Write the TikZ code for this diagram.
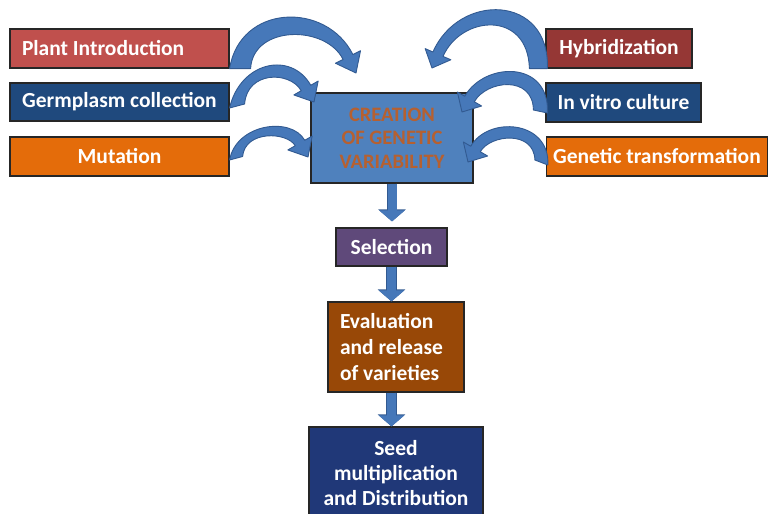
\documentclass[tikz,border=0pt]{standalone}
\usepackage{fontspec}
\setmainfont{Carlito}
\usetikzlibrary{arrows.meta,calc}
\definecolor{pired}{RGB}{192,80,77}
\definecolor{hyred}{RGB}{149,55,53}
\definecolor{dblue}{RGB}{31,73,125}
\definecolor{orng}{RGB}{228,108,10}
\definecolor{cblue}{RGB}{79,129,189}
\definecolor{ctext}{RGB}{182,96,48}
\definecolor{purp}{RGB}{95,73,122}
\definecolor{brwn}{RGB}{152,72,7}
\definecolor{navy}{RGB}{32,56,120}
\definecolor{arrowblue}{RGB}{70,120,185}
\definecolor{arrowedge}{RGB}{50,90,145}
\tikzset{
  box/.style={draw=black!85, line width=1.2pt, inner sep=0pt, text=white,
    font=\fontsize{21.5}{24}\selectfont\bfseries},
  carrow/.style={fill=arrowblue, draw=arrowedge, line width=0.9pt, line join=round},
  varrow/.style={draw=arrowblue, line width=9pt,
    -{Triangle[width=25pt,length=11pt,fill=arrowblue]},
    preaction={draw=arrowedge, line width=10.5pt, -{Triangle[width=27pt,length=12pt]}}}
}
% #1 base A, #2 ctrl, #3 ctrl, #4 head root centre, #5 tip, #6 ctrl, #7 ctrl, #8 base B
\newcommand\taparrow[8]{%
  \filldraw[carrow] (#1) .. controls (#2) and (#3) .. ($(#4)!5.5pt!90:(#5)$)
    -- ($(#4)!14pt!90:(#5)$) -- (#5) -- ($(#4)!14pt!-90:(#5)$)
    -- ($(#4)!5.5pt!-90:(#5)$) .. controls (#6) and (#7) .. (#8) -- cycle;}
\begin{document}
\begin{tikzpicture}[x=1pt,y=-1pt]
\clip (0,0) rectangle (769,514);
\useasboundingbox (0,0) rectangle (769,514);
% left boxes
\node[box, fill=pired, minimum height=39pt, text width=195pt, inner xsep=12pt, align=flush left] (pi) at (119.5,48.5) {Plant Introduction};
\node[box, fill=dblue, minimum width=219pt, minimum height=38pt] (gc) at (119.5,102) {Germplasm collection};
\node[box, fill=orng, minimum width=219pt, minimum height=39pt] (mu) at (119.5,156.5) {Mutation};
% right boxes
\node[box, fill=hyred, minimum width=146pt, minimum height=39pt] (hy) at (619,48.5) {Hybridization};
\node[box, fill=dblue, minimum width=155pt, minimum height=39pt] (iv) at (623.5,102.5) {In vitro culture};
\node[box, fill=orng, minimum width=221pt, minimum height=39pt] (gt) at (657,156.5) {Genetic transformation};
% centre
\node[box, fill=cblue, minimum width=162pt, minimum height=90pt, text=ctext,
  font=\fontsize{20.5}{23.5}\selectfont\bfseries, align=center] (cgv) at (392,138) {CREATION\\OF GENETIC\\VARIABILITY};
\node[box, fill=purp, minimum width=111pt, minimum height=38pt] (sel) at (391.5,247) {Selection};
\node[box, fill=brwn, minimum height=90pt, text width=112pt, inner xsep=12pt, align=flush left,
  font=\fontsize{21.5}{26}\selectfont\bfseries] (eva) at (396,347) {Evaluation\\and release\\of varieties};
\node[box, fill=navy, minimum width=174pt, minimum height=92pt, align=center,
  font=\fontsize{21.5}{25}\selectfont\bfseries] (seed) at (396,473) {Seed\\multiplication\\and Distribution};
% arrow tips and head roots
\coordinate (t1) at (356,73);   \coordinate (h1) at (348,57);
\coordinate (t2) at (314,102);  \coordinate (h2) at (306,88);
\coordinate (t3) at (308,157);  \coordinate (h3) at (300,143);
\coordinate (t4) at (432,68);   \coordinate (h4) at (438,54.2);
\coordinate (t5) at (462,112);  \coordinate (h5) at (469.5,99);
\coordinate (t6) at (468,162);  \coordinate (h6) at (475.5,149);
% curved arrows (left: outer edge first; right: inner edge first)
\taparrow{pi.south east}{240,4}{326,1}{h1}{t1}{325.7,24.6}{253,25}{[xshift=21pt]pi.south east}
\taparrow{[yshift=-6pt]gc.east}{240,62}{290.8,50.4}{h2}{t2}{289.7,70.7}{247,71}{[xshift=15pt,yshift=-2pt]gc.east}
\taparrow{[yshift=-3.5pt]mu.east}{236,124}{290.8,115.9}{h3}{t3}{287.2,131.8}{245,130}{[xshift=13pt]mu.east}
\taparrow{[xshift=-16pt]hy.south west}{528,10}{461.1,15}{h4}{t4}{458.9,-7.8}{550,-6}{[xshift=2pt]hy.south west}
\taparrow{[xshift=-12pt,yshift=-7.5pt]iv.west}{533,75}{486.8,80}{h5}{t5}{484.7,61.45}{550,60}{[xshift=2pt,yshift=-10.5pt]iv.west}
\taparrow{[xshift=-11pt,yshift=-3.5pt]gt.west}{534,130}{490.3,134.35}{h6}{t6}{488.2,115.8}{550,120}{[xshift=2pt,yshift=-8.5pt]gt.west}
% vertical arrows
\draw[varrow, shorten >=6pt] (cgv.south) -- (cgv.south |- sel.north);
\draw[varrow] (sel.south) -- (sel.south |- eva.north);
\draw[varrow] (eva.south -| sel.south) -- (sel.south |- seed.north);
\end{tikzpicture}
\end{document}
